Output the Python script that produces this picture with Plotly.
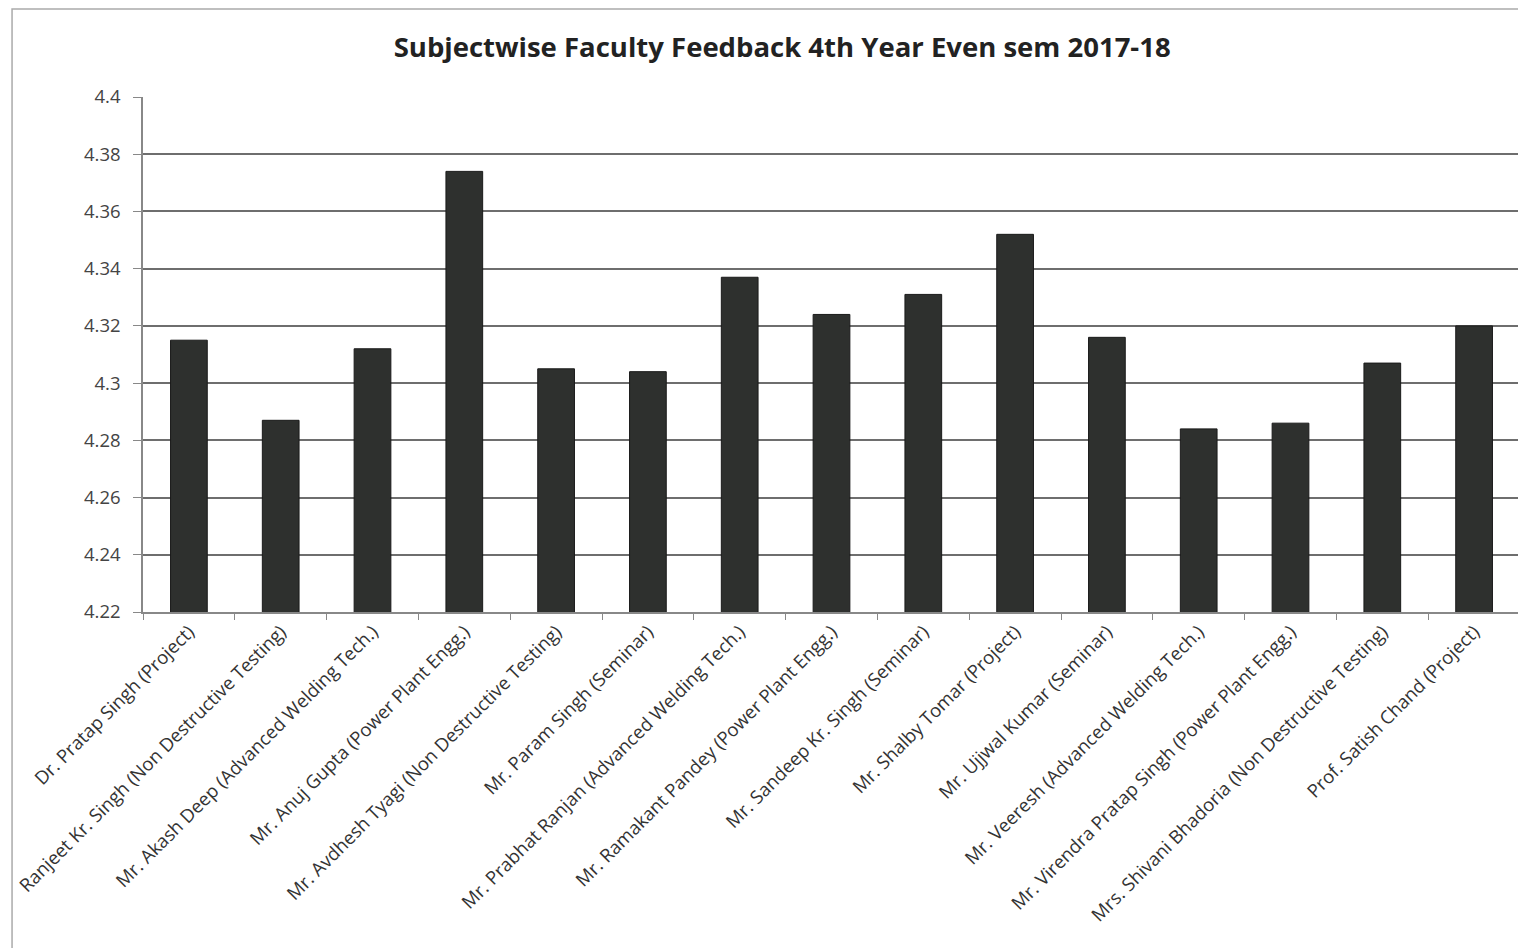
import plotly.graph_objects as go

categories = [
    "Dr. Pratap Singh (Project)",
    "Ranjeet Kr. Singh (Non Destructive Testing)",
    "Mr. Akash Deep (Advanced Welding Tech.)",
    "Mr. Anuj Gupta (Power Plant Engg.)",
    "Mr. Avdhesh Tyagi (Non Destructive Testing)",
    "Mr. Param Singh (Seminar)",
    "Mr. Prabhat Ranjan (Advanced Welding Tech.)",
    "Mr. Ramakant Pandey (Power Plant Engg.)",
    "Mr. Sandeep Kr. Singh (Seminar)",
    "Mr. Shalby Tomar (Project)",
    "Mr. Ujjwal Kumar (Seminar)",
    "Mr. Veeresh (Advanced Welding Tech.)",
    "Mr. Virendra Pratap Singh (Power Plant Engg.)",
    "Mrs. Shivani Bhadoria (Non Destructive Testing)",
    "Prof. Satish Chand (Project)",
]
values = [4.315, 4.287, 4.312, 4.374, 4.305, 4.304, 4.337, 4.324, 4.331,
          4.352, 4.316, 4.284, 4.286, 4.307, 4.320]
y_ticks = [4.22, 4.24, 4.26, 4.28, 4.3, 4.32, 4.34, 4.36, 4.38, 4.4]
y_tick_text = ["4.22", "4.24", "4.26", "4.28", "4.3", "4.32", "4.34", "4.36", "4.38", "4.4"]

fig = go.Figure(go.Bar(
    x=categories, y=values,
    marker=dict(color="#2e302e", line=dict(color="#1a1a1a", width=1)),
    showlegend=False,
))

fig.update_layout(
    width=1518, height=940,
    paper_bgcolor="white", plot_bgcolor="white",
    margin=dict(l=135, r=6, t=89, b=336),
    bargap=0.6,
    font=dict(family="Open Sans, Liberation Sans, sans-serif", color="#333333"),
    title=dict(text="<b>Subjectwise Faculty Feedback 4th Year Even sem 2017-18</b>",
               x=0.51, xanchor="center", y=0.958, yanchor="middle",
               font=dict(size=27.5, color="#222222")),
    shapes=[dict(type="rect", xref="paper", yref="paper",
                 x0=-0.0951, x1=1.05, y0=-1.0, y1=1.171,
                 line=dict(color="#aaaaaa", width=1.5))],
)
fig.update_yaxes(
    range=[4.22, 4.4], tickvals=y_ticks, ticktext=y_tick_text,
    showgrid=True, gridcolor="#6e6e6e", gridwidth=1.5,
    showline=True, linecolor="#888888", linewidth=1.5,
    ticks="outside", ticklen=8, tickcolor="#888888", ticklabelstandoff=9,
    tickfont=dict(size=18.5, color="#444444"), zeroline=False,
)
fig.update_xaxes(
    tickangle=-45, tickfont=dict(size=18.5, color="#333333"),
    showline=True, linecolor="#888888", linewidth=1.5,
    ticks="outside", ticklen=6, tickcolor="#888888", tickson="boundaries",
)

fig.write_html("out.html")
